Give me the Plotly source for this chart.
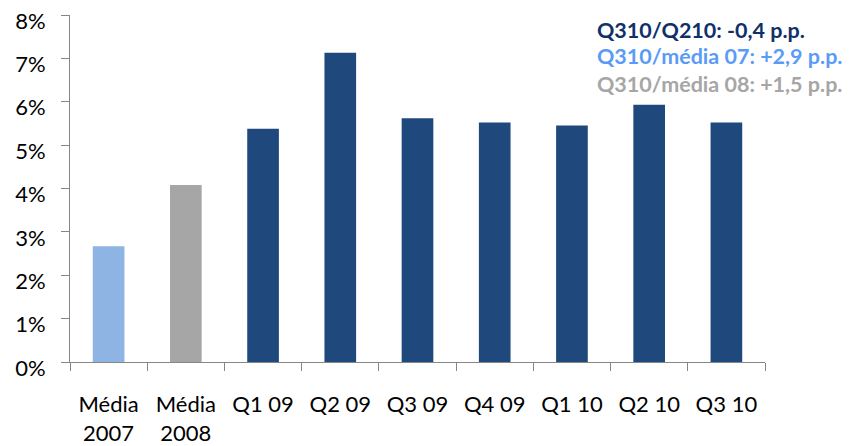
import plotly.graph_objects as go

categories = ["Média<br>2007", "Média<br>2008", "Q1 09", "Q2 09", "Q3 09", "Q4 09", "Q1 10", "Q2 10", "Q3 10"]
values = [2.67, 4.08, 5.38, 7.13, 5.62, 5.52, 5.45, 5.93, 5.52]
bar_colors = ["#8DB4E2", "#A6A6A6", "#1F497D", "#1F497D", "#1F497D", "#1F497D", "#1F497D", "#1F497D", "#1F497D"]
y_ticks = [0, 1, 2, 3, 4, 5, 6, 7, 8]
y_tick_labels = [f"{v}%" for v in y_ticks]
notes = ["Q310/Q210: -0,4 p.p.", "Q310/média 07: +2,9 p.p.", "Q310/média 08: +1,5 p.p."]
note_colors = ["#10306A", "#5B9BF8", "#A6A6A6"]

FONT = "Lato, 'Open Sans', sans-serif"

fig = go.Figure(go.Bar(
    x=categories, y=values,
    marker=dict(color=bar_colors, line=dict(width=0)),
))

axis_col = "#868686"
fig.update_layout(
    width=844, height=438,
    margin=dict(l=62, r=87, t=7, b=84, autoexpand=False),
    paper_bgcolor="white", plot_bgcolor="white",
    bargap=0.59,
    showlegend=False,
    font=dict(family=FONT, size=21, color="black"),
    xaxis=dict(
        showline=True, linecolor=axis_col, linewidth=1,
        ticks="outside", ticklen=8, tickcolor=axis_col, tickson="boundaries",
        showgrid=False, ticklabelstandoff=23,
        tickfont=dict(family=FONT, size=22, color="black"),
    ),
    yaxis=dict(
        range=[0, 8], tickvals=y_ticks, ticktext=y_tick_labels,
        showline=True, linecolor=axis_col, linewidth=1,
        ticks="outside", ticklen=8, tickcolor=axis_col,
        showgrid=False, zeroline=False, ticklabelstandoff=11,
        ticklabeloverflow="allow", ticklabelshift=6,
        tickfont=dict(family=FONT, size=22, color="black"),
    ),
)

ys = [0.958, 0.882, 0.80]
for txt, col, yy in zip(notes, note_colors, ys):
    fig.add_annotation(
        text=f"<b>{txt}</b>", x=0.756, y=yy, xref="paper", yref="paper",
        xanchor="left", yanchor="middle", showarrow=False,
        font=dict(family=FONT, size=21.5, color=col),
    )

fig.write_html("out.html")
